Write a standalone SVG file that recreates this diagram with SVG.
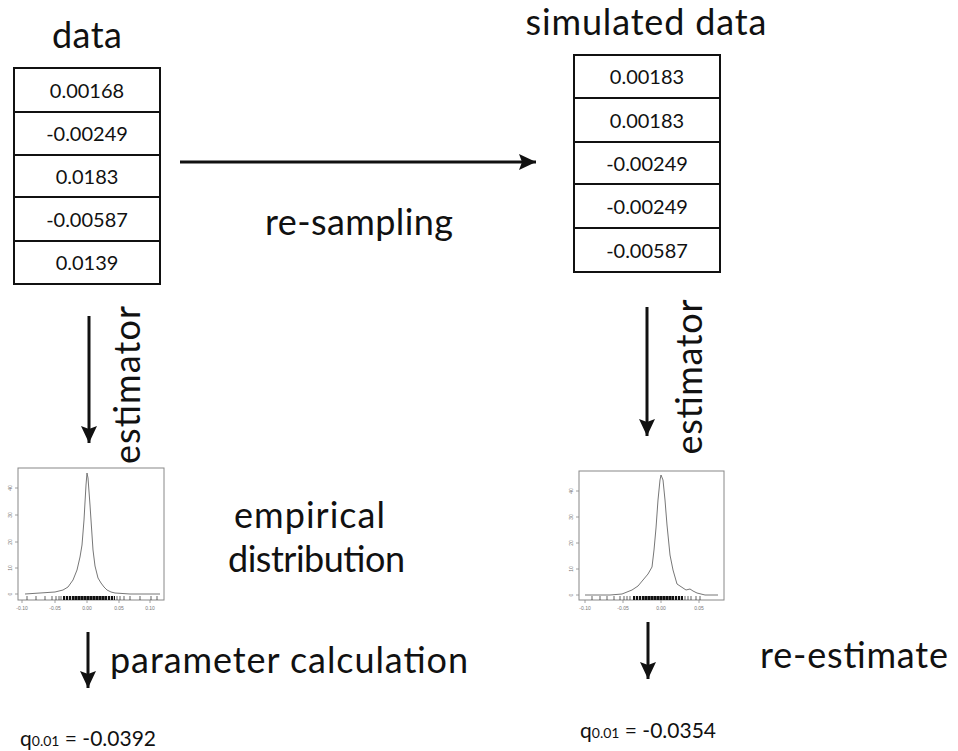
<svg xmlns="http://www.w3.org/2000/svg" width="958" height="751" viewBox="0 0 958 751">
<defs>
<style>
.t{font-family:Lato,"Open Sans","Liberation Sans",sans-serif;fill:#111}
.big{font-size:36px}
.cell rect{fill:#fff;stroke:#111;stroke-width:2}
.cell text{font-family:Lato,"Open Sans","Liberation Sans",sans-serif;font-size:20px;fill:#111;text-anchor:middle}
.frame{fill:#fff;stroke:#888;stroke-width:1}
.curve{fill:none;stroke:#777;stroke-width:1}
.tick{stroke:#888;stroke-width:0.8}
.ax{font-family:"Liberation Sans",sans-serif;font-size:5px;fill:#777;text-anchor:middle}
.conn{stroke:#111;stroke-width:3;fill:none}
.rug{stroke:#222;stroke-width:0.7}
</style>
<pattern id="rugp" x="0" y="0" width="3" height="4" patternUnits="userSpaceOnUse">
<rect x="0" y="0" width="2.2" height="4" fill="#111"/>
</pattern>
<marker id="ah" viewBox="0 0 18 18" refX="17" refY="9" markerWidth="18" markerHeight="18" markerUnits="userSpaceOnUse" orient="auto">
<path d="M0,1 L17,9 L0,17 L3,9 z" fill="#111"/>
</marker>
</defs>

<g id="title-data"><text class="t big" x="87" y="48" text-anchor="middle" textLength="70">data</text></g>
<g id="title-sim"><text class="t big" x="646" y="35" text-anchor="middle" textLength="241">simulated data</text></g>

<g id="data-table" class="cell">
<rect x="14" y="68" width="146" height="44"/><text x="87" y="97.5">0.00168</text>
<rect x="14" y="112" width="146" height="43"/><text x="87" y="141">-0.00249</text>
<rect x="14" y="155" width="146" height="42"/><text x="87" y="183.5">0.0183</text>
<rect x="14" y="197" width="146" height="44"/><text x="87" y="226.5">-0.00587</text>
<rect x="14" y="241" width="146" height="43"/><text x="87" y="270">0.0139</text>
</g>

<g id="sim-table" class="cell">
<rect x="574" y="55" width="146" height="43"/><text x="647" y="84">0.00183</text>
<rect x="574" y="98" width="146" height="44"/><text x="647" y="127.5">0.00183</text>
<rect x="574" y="142" width="146" height="42"/><text x="647" y="170.5">-0.00249</text>
<rect x="574" y="184" width="146" height="44"/><text x="647" y="213.5">-0.00249</text>
<rect x="574" y="228" width="146" height="44"/><text x="647" y="257.5">-0.00587</text>
</g>

<g id="connectors">
<line class="conn" x1="180" y1="162" x2="536" y2="162" marker-end="url(#ah)"/>
<line class="conn" x1="89" y1="316" x2="89" y2="443" marker-end="url(#ah)"/>
<line class="conn" x1="647" y1="307" x2="647" y2="436" marker-end="url(#ah)"/>
<line class="conn" x1="88" y1="632" x2="88" y2="688" marker-end="url(#ah)"/>
<line class="conn" x1="648" y1="622" x2="648" y2="679" marker-end="url(#ah)"/>
</g>

<g id="label-resampling"><text class="t big" x="265" y="235" textLength="188">re-sampling</text></g>
<g id="label-estimator-left"><text class="t big" transform="translate(140,385) rotate(-90)" x="0" y="0" text-anchor="middle" textLength="158">estimator</text></g>
<g id="label-estimator-right"><text class="t big" transform="translate(702,377) rotate(-90)" x="0" y="0" text-anchor="middle" textLength="155">estimator</text></g>
<g id="label-empirical">
<text class="t big" x="234" y="528" textLength="151">empirical</text>
<text class="t big" x="228" y="572" textLength="177">distribution</text>
</g>
<g id="label-param"><text class="t big" x="110" y="673" textLength="358">parameter calculation</text></g>
<g id="label-reestimate"><text class="t big" x="760" y="668" textLength="188">re-estimate</text></g>

<g id="plot-left">
<rect class="frame" x="18" y="468" width="146" height="132"/>
<path class="tick" d="M15,594H18M15,568H18M15,542H18M15,515H18M15,488H18M22,600V603M55,600V603M87,600V603M119,600V603M150,600V603"/>
<text class="ax" transform="translate(12,594) rotate(-90)">0</text>
<text class="ax" transform="translate(12,568) rotate(-90)">10</text>
<text class="ax" transform="translate(12,542) rotate(-90)">20</text>
<text class="ax" transform="translate(12,515) rotate(-90)">30</text>
<text class="ax" transform="translate(12,488) rotate(-90)">40</text>
<text class="ax" x="22" y="610">-0.10</text>
<text class="ax" x="55" y="610">-0.05</text>
<text class="ax" x="87" y="610">0.00</text>
<text class="ax" x="119" y="610">0.05</text>
<text class="ax" x="150" y="610">0.10</text>
<path class="curve" d="M25,594 L40,593 L55,592 L63,590 L68,587 L73,580 L77,570 L80,557 L82,545 L84,520 L86,485 L87,473 L88,478 L90,505 L91,520 L93,550 L95,566 L98,578 L101,583 L104,587 L107,590 L111,592 L115,593 L130,594 L160,594"/>
<path class="rug" d="M27,596V600M36,596V600M45,596V600M52,596V600M56,596V600M59,596V600M61,596V600M117,596V600M120,596V600M124,596V600M130,596V600M140,596V600M151,596V600M157,596V600"/>
<rect x="63" y="596" width="52" height="4" fill="url(#rugp)"/>
<rect x="72" y="596" width="34" height="4" fill="#111" opacity="0.6"/>
</g>

<g id="plot-right">
<rect class="frame" x="579" y="471" width="145" height="129"/>
<path class="tick" d="M576,595H579M576,569H579M576,543H579M576,517H579M576,491H579M585,600V603M623,600V603M661,600V603M699,600V603"/>
<text class="ax" transform="translate(573,595) rotate(-90)">0</text>
<text class="ax" transform="translate(573,569) rotate(-90)">10</text>
<text class="ax" transform="translate(573,543) rotate(-90)">20</text>
<text class="ax" transform="translate(573,517) rotate(-90)">30</text>
<text class="ax" transform="translate(573,491) rotate(-90)">40</text>
<text class="ax" x="585" y="610">-0.10</text>
<text class="ax" x="623" y="610">-0.05</text>
<text class="ax" x="661" y="610">0.00</text>
<text class="ax" x="699" y="610">0.05</text>
<path class="curve" d="M585,595 L610,595 L622,594 L632,590 L638,586 L643,580 L648,574 L652,567 L654,550 L656,528 L658,500 L660,480 L661,475 L663,480 L665,500 L667,525 L670,555 L673,570 L677,584 L680,586 L683,588 L686,590 L690,589 L693,591 L697,593 L705,595 L718,595"/>
<path class="rug" d="M592,596V600M600,596V600M607,596V600M614,596V600M620,596V600M624,596V600M627,596V600M630,596V600M685,596V600M688,596V600M691,596V600M696,596V600M700,596V600"/>
<rect x="633" y="596" width="50" height="4" fill="url(#rugp)"/>
<rect x="642" y="596" width="32" height="4" fill="#111" opacity="0.6"/>
</g>

<g id="result-left">
<text class="t" x="20" y="746" font-size="21"><tspan>q</tspan><tspan font-size="14">0.01</tspan><tspan> = -0.0392</tspan></text>
</g>
<g id="result-right">
<text class="t" x="580" y="738" font-size="21"><tspan>q</tspan><tspan font-size="14">0.01</tspan><tspan> = -0.0354</tspan></text>
</g>
</svg>
